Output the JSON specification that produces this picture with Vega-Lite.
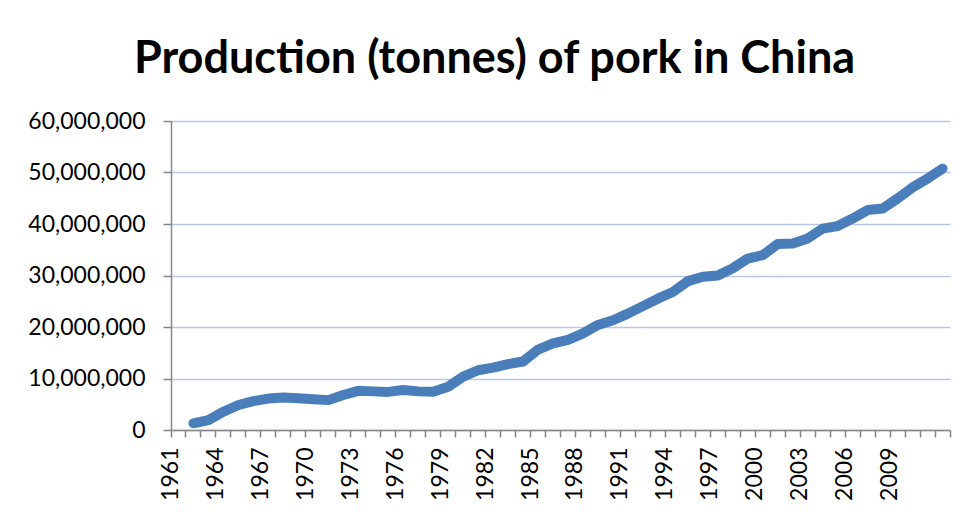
{
  "$schema": "https://vega.github.io/schema/vega-lite/v6.json",
  "autosize": {"type": "none"},
  "width": 779,
  "height": 309,
  "padding": {"left": 171, "top": 121, "right": 22, "bottom": 86},
  "background": "white",
  "title": {
    "text": "Production (tonnes) of pork in China",
    "anchor": "middle",
    "frame": "group",
    "dx": -66,
    "offset": 28,
    "font": "Lato",
    "fontSize": 45,
    "fontWeight": "bold",
    "color": "black"
  },
  "config": {
    "view": {"stroke": null}
  },
  "data": {
    "values": [
      {"year": 1962, "tonnes": 1300000},
      {"year": 1963, "tonnes": 1940000},
      {"year": 1964, "tonnes": 3550000},
      {"year": 1965, "tonnes": 4850000},
      {"year": 1966, "tonnes": 5600000},
      {"year": 1967, "tonnes": 6100000},
      {"year": 1968, "tonnes": 6300000},
      {"year": 1969, "tonnes": 6150000},
      {"year": 1970, "tonnes": 5950000},
      {"year": 1971, "tonnes": 5800000},
      {"year": 1972, "tonnes": 6800000},
      {"year": 1973, "tonnes": 7600000},
      {"year": 1974, "tonnes": 7500000},
      {"year": 1975, "tonnes": 7400000},
      {"year": 1976, "tonnes": 7750000},
      {"year": 1977, "tonnes": 7500000},
      {"year": 1978, "tonnes": 7450000},
      {"year": 1979, "tonnes": 8400000},
      {"year": 1980, "tonnes": 10350000},
      {"year": 1981, "tonnes": 11600000},
      {"year": 1982, "tonnes": 12100000},
      {"year": 1983, "tonnes": 12800000},
      {"year": 1984, "tonnes": 13300000},
      {"year": 1985, "tonnes": 15600000},
      {"year": 1986, "tonnes": 16800000},
      {"year": 1987, "tonnes": 17500000},
      {"year": 1988, "tonnes": 18750000},
      {"year": 1989, "tonnes": 20400000},
      {"year": 1990, "tonnes": 21300000},
      {"year": 1991, "tonnes": 22600000},
      {"year": 1992, "tonnes": 24050000},
      {"year": 1993, "tonnes": 25500000},
      {"year": 1994, "tonnes": 26800000},
      {"year": 1995, "tonnes": 28900000},
      {"year": 1996, "tonnes": 29750000},
      {"year": 1997, "tonnes": 30000000},
      {"year": 1998, "tonnes": 31400000},
      {"year": 1999, "tonnes": 33300000},
      {"year": 2000, "tonnes": 33950000},
      {"year": 2001, "tonnes": 36100000},
      {"year": 2002, "tonnes": 36200000},
      {"year": 2003, "tonnes": 37200000},
      {"year": 2004, "tonnes": 39100000},
      {"year": 2005, "tonnes": 39600000},
      {"year": 2006, "tonnes": 41050000},
      {"year": 2007, "tonnes": 42700000},
      {"year": 2008, "tonnes": 43000000},
      {"year": 2009, "tonnes": 44950000},
      {"year": 2010, "tonnes": 47100000},
      {"year": 2011, "tonnes": 48800000},
      {"year": 2012, "tonnes": 50750000}
    ]
  },
  "mark": {"type": "line", "color": "#4A7EBB", "strokeWidth": 10, "strokeCap": "round", "strokeJoin": "round"},
  "encoding": {
    "x": {
      "field": "year",
      "type": "ordinal",
      "scale": {
        "type": "band",
        "paddingInner": 0,
        "paddingOuter": 0,
        "domain": [1961,1962,1963,1964,1965,1966,1967,1968,1969,1970,1971,1972,1973,1974,1975,1976,1977,1978,1979,1980,1981,1982,1983,1984,1985,1986,1987,1988,1989,1990,1991,1992,1993,1994,1995,1996,1997,1998,1999,2000,2001,2002,2003,2004,2005,2006,2007,2008,2009,2010,2011,2012]
      },
      "axis": {
        "title": null,
        "labelAngle": -90,
        "labelExpr": "(datum.value - 1961) % 3 == 0 && datum.value < 2012 ? '' + datum.value : ''",
        "labelFont": "Lato",
        "labelFontSize": 23,
        "labelColor": "black",
        "labelOverlap": false,
        "domainColor": "#868686",
        "domainWidth": 1.5,
        "tickColor": "#868686",
        "tickWidth": 1.5,
        "bandPosition": 1,
        "tickExtra": true,
        "labelOffset": -7.5,
        "tickSize": 7,
        "labelPadding": 10,
        "grid": false
      }
    },
    "y": {
      "field": "tonnes",
      "type": "quantitative",
      "scale": {"domain": [0, 60000000], "nice": false},
      "axis": {
        "title": null,
        "values": [0, 10000000, 20000000, 30000000, 40000000, 50000000, 60000000],
        "labelExpr": "format(datum.value, ',')",
        "labelFont": "Lato",
        "labelFontSize": 23,
        "labelColor": "black",
        "domainColor": "#868686",
        "domainWidth": 1.5,
        "tickColor": "#868686",
        "tickWidth": 1.5,
        "tickSize": 8,
        "labelPadding": 18,
        "grid": true,
        "gridColor": "#B7C8E6",
        "gridWidth": 1.5
      }
    }
  }
}
